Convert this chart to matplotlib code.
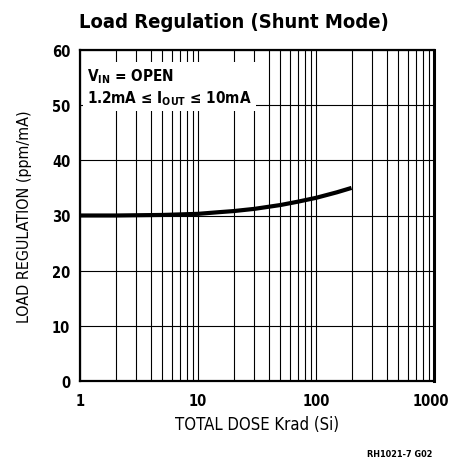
import numpy as np
import matplotlib.pyplot as plt
import matplotlib.transforms as mtransforms
from matplotlib.ticker import LogLocator, FixedLocator, NullFormatter

# Data:
DOSE = [1, 2, 5, 10, 15, 20, 30, 50, 70, 100, 150, 200]
LOAD_REG = [30.0, 30.0, 30.1, 30.3, 30.6, 30.8, 31.2, 31.9, 32.5, 33.2, 34.2, 35.0]
Y_TICKS = [0, 10, 20, 30, 40, 50, 60]
X_TICKS = [1, 10, 100, 1000]
X_LABELS = ['1', '10', '100', '1000']

plt.rcParams['font.family'] = ['DejaVu Sans']
plt.rcParams['font.stretch'] = 'condensed'
plt.rcParams['mathtext.fontset'] = 'custom'
plt.rcParams['mathtext.rm'] = 'DejaVu Sans:weight=bold:stretch=condensed'

figure = plt.figure(figsize=(4.5, 4.64), dpi=100)
ax = figure.add_axes([80 / 450, 1 - 382 / 464, 354 / 450, 331 / 464])

ax.set_xscale('log')
ax.set_xlim(1, 1000)
ax.set_ylim(0, 60)

# Grid: horizontal every 10, vertical at each 1..9 of each decade
ax.xaxis.set_major_locator(FixedLocator(X_TICKS))
ax.set_xticklabels(X_LABELS)
ax.xaxis.set_minor_locator(LogLocator(base=10, subs=np.arange(2, 10)))
ax.xaxis.set_minor_formatter(NullFormatter())
ax.set_yticks(Y_TICKS)
ax.grid(which='both', axis='x', color='black', linewidth=0.8)
ax.grid(which='major', axis='y', color='black', linewidth=0.8)
ax.tick_params(which='both', length=0, labelsize=10.5)
ax.tick_params(axis='x', pad=9)
ax.tick_params(axis='y', pad=7)
for label in ax.get_xticklabels() + ax.get_yticklabels():
    label.set_fontweight('bold')
# nudge "1000" a little left so it stays inside the figure
last = ax.get_xticklabels()[-1]
last.set_transform(last.get_transform() + mtransforms.ScaledTranslation(-3 / 100, 0, figure.dpi_scale_trans))

for side in ax.spines.values():
    side.set_linewidth(1.6)
ax.spines['right'].set_linewidth(2.2)

ax.plot(DOSE, LOAD_REG, color='black', linewidth=3, solid_capstyle='butt')

# Condition box in the upper left
ax.text(7 / 354, 1 - 16 / 331, r'$\mathrm{V_{IN}}$ = OPEN' + '\n' + r'1.2mA ≤ $\mathrm{I_{OUT}}$ ≤ 10mA',
        transform=ax.transAxes, ha='left', va='top', fontsize=11, fontweight='bold',
        linespacing=1.25, bbox=dict(facecolor='white', edgecolor='none', pad=3))

figure.text(234 / 450, 1 - 22 / 464, 'Load Regulation (Shunt Mode)', ha='center', va='center',
            fontsize=14.5, fontweight='bold')
ax.set_xlabel('TOTAL DOSE Krad (Si)', fontsize=12, labelpad=5)
ax.set_ylabel('LOAD REGULATION (ppm/mA)', fontsize=11.5, labelpad=14)
figure.text(432 / 450, 1 - 455 / 464, 'RH1021-7 G02', ha='right', va='center', fontsize=6.5,
            fontweight='bold')

figure.savefig('out.png', dpi=100)
